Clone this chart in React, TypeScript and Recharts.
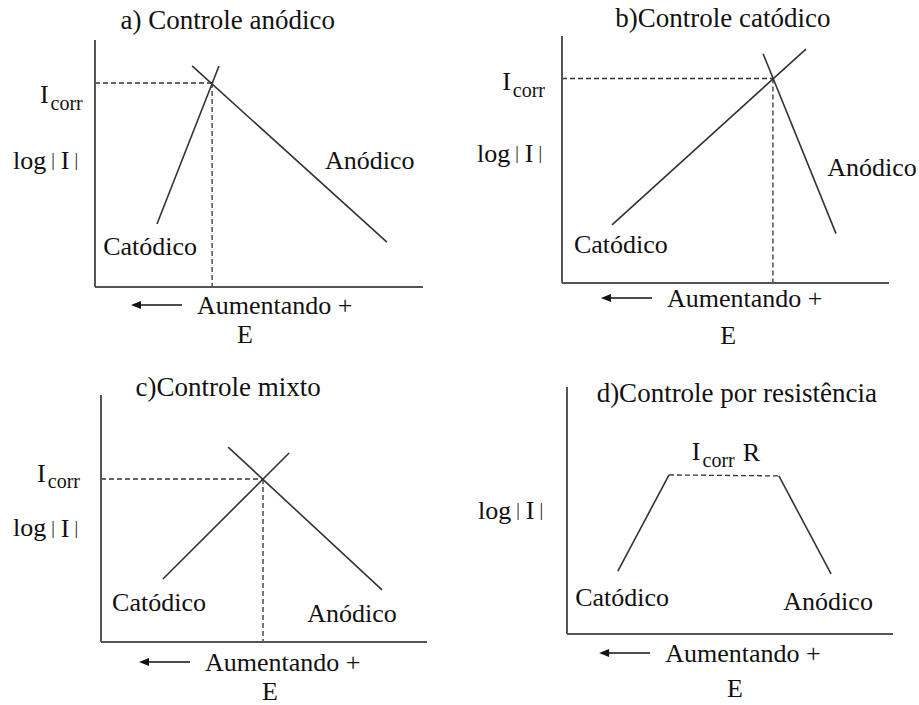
import React from "react";
import { LineChart, Line, XAxis, YAxis, ReferenceDot } from "recharts";

type Pt = { x: number; y: number };
type NoteKind = "title" | "plain" | "icorr" | "icorrR" | "log" | "eixo";
type Note = { x: number; y: number; text: string; kind: NoteKind; anchor: "start" | "middle" };

// a) Controle anódico
const aCatodico: Pt[] = [{ x: 1.89, y: 2.55 }, { x: 3.78, y: 8.95 }];
const aAnodico: Pt[] = [{ x: 2.96, y: 8.95 }, { x: 8.9, y: 1.82 }];
const aIcorr: Pt = { x: 3.57, y: 8.26 };
const aNotes: Note[] = [
  { x: 4.05, y: 10.81, text: "a) Controle anódico", kind: "title", anchor: "middle" },
  { x: -1.68, y: 7.79, text: "I", kind: "icorr", anchor: "start" },
  { x: -2.5, y: 5.14, text: "log", kind: "log", anchor: "start" },
  { x: 8.38, y: 5.14, text: "Anódico", kind: "plain", anchor: "middle" },
  { x: 1.68, y: 1.62, text: "Catódico", kind: "plain", anchor: "middle" },
  { x: 3.11, y: -0.73, text: "Aumentando +", kind: "eixo", anchor: "start" },
  { x: 4.57, y: -1.94, text: "E", kind: "plain", anchor: "middle" },
];

// b) Controle catódico
const bCatodico: Pt[] = [{ x: 1.53, y: 2.35 }, { x: 7.46, y: 9.47 }];
const bAnodico: Pt[] = [{ x: 6.15, y: 9.28 }, { x: 8.38, y: 2.0 }];
const bIcorr: Pt = { x: 6.45, y: 8.28 };
const bNotes: Note[] = [
  { x: 4.92, y: 10.73, text: "b)Controle catódico", kind: "title", anchor: "middle" },
  { x: -1.83, y: 8.14, text: "I", kind: "icorr", anchor: "start" },
  { x: -2.6, y: 5.26, text: "log", kind: "log", anchor: "start" },
  { x: 9.48, y: 4.66, text: "Anódico", kind: "plain", anchor: "middle" },
  { x: 1.8, y: 1.54, text: "Catódico", kind: "plain", anchor: "middle" },
  { x: 3.21, y: -0.61, text: "Aumentando +", kind: "eixo", anchor: "start" },
  { x: 5.08, y: -2.11, text: "E", kind: "plain", anchor: "middle" },
];

// c) Controle mixto
const cCatodico: Pt[] = [{ x: 1.9, y: 2.55 }, { x: 5.77, y: 7.65 }];
const cAnodico: Pt[] = [{ x: 3.9, y: 7.89 }, { x: 8.62, y: 2.11 }];
const cIcorr: Pt = { x: 4.97, y: 6.6 };
const cNotes: Note[] = [
  { x: 3.9, y: 10.32, text: "c)Controle mixto", kind: "title", anchor: "middle" },
  { x: -1.96, y: 6.84, text: "I", kind: "icorr", anchor: "start" },
  { x: -2.7, y: 4.62, text: "log", kind: "log", anchor: "start" },
  { x: 1.78, y: 1.58, text: "Catódico", kind: "plain", anchor: "middle" },
  { x: 7.7, y: 1.17, text: "Anódico", kind: "plain", anchor: "middle" },
  { x: 3.19, y: -0.81, text: "Aumentando +", kind: "eixo", anchor: "start" },
  { x: 5.18, y: -2.02, text: "E", kind: "plain", anchor: "middle" },
];

// d) Controle por resistência
const dCatodico: Pt[] = [{ x: 1.56, y: 2.55 }, { x: 3.13, y: 6.44 }];
const dPatamar: Pt[] = [{ x: 3.13, y: 6.44 }, { x: 6.5, y: 6.4 }];
const dAnodico: Pt[] = [{ x: 6.5, y: 6.4 }, { x: 8.1, y: 2.43 }];
const dNotes: Note[] = [
  { x: 5.21, y: 9.76, text: "d)Controle por resistência", kind: "title", anchor: "middle" },
  { x: 3.83, y: 7.37, text: "I", kind: "icorrR", anchor: "start" },
  { x: -2.73, y: 5.02, text: "log", kind: "log", anchor: "start" },
  { x: 1.69, y: 1.46, text: "Catódico", kind: "plain", anchor: "middle" },
  { x: 8.01, y: 1.3, text: "Anódico", kind: "plain", anchor: "middle" },
  { x: 3.01, y: -0.77, text: "Aumentando +", kind: "eixo", anchor: "start" },
  { x: 5.15, y: -2.22, text: "E", kind: "plain", anchor: "middle" },
];

const FONT = "'Liberation Serif', 'Times New Roman', serif";
const INK = "#111";
const LINE = "#333";

function noteShape(n: Note) {
  return (p: any) => {
    const { cx, cy } = p;
    const common = {
      x: cx,
      y: cy,
      fill: INK,
      fontFamily: FONT,
      dominantBaseline: "central" as const,
      textAnchor: n.anchor,
    };
    if (n.kind === "title") {
      return <text {...common} fontSize={27}>{n.text}</text>;
    }
    if (n.kind === "icorr" || n.kind === "icorrR") {
      return (
        <text {...common} fontSize={26}>
          {n.text}
          <tspan fontSize={20} dx={2} dy={8}>corr</tspan>
          {n.kind === "icorrR" && <tspan fontSize={26} dx={8} dy={-8}>R</tspan>}
        </text>
      );
    }
    if (n.kind === "log") {
      return (
        <text {...common} fontSize={26}>
          {n.text}
          <tspan fontSize={18} dx={5}>|</tspan>
          <tspan fontSize={26} dx={6}>I</tspan>
          <tspan fontSize={18} dx={5}>|</tspan>
        </text>
      );
    }
    if (n.kind === "eixo") {
      const x1 = cx - 15;
      const x2 = cx - 66;
      return (
        <g>
          <line x1={x1} y1={cy} x2={x2 + 8} y2={cy} stroke={INK} strokeWidth={1.5} />
          <polygon points={`${x2},${cy} ${x2 + 10},${cy - 4} ${x2 + 10},${cy + 4}`} fill={INK} />
          <text {...common} fontSize={26}>{n.text}</text>
        </g>
      );
    }
    return <text {...common} fontSize={26}>{n.text}</text>;
  };
}

type PanelProps = {
  left: number;
  top: number;
  width: number;
  height: number;
  margin: { top: number; right: number; bottom: number; left: number };
  solid: Pt[][];
  icorr?: Pt;
  dashed?: Pt[];
  notes: Note[];
};

function Panel({ left, top, width, height, margin, solid, icorr, dashed, notes }: PanelProps) {
  const dashSegs: Pt[][] = [];
  if (icorr) {
    dashSegs.push([{ x: 0, y: icorr.y }, icorr]);
    dashSegs.push([icorr, { x: icorr.x, y: 0 }]);
  }
  if (dashed) dashSegs.push(dashed);
  // axes take 1px each, so trim them out of the margins
  const m = { ...margin, left: margin.left - 1, bottom: margin.bottom - 1 };
  return (
    <div style={{ position: "absolute", left, top, width, height }}>
      <LineChart width={width} height={height} margin={m}>
        <XAxis
          type="number"
          dataKey="x"
          domain={[0, 10]}
          allowDataOverflow
          height={1}
          tick={false}
          tickLine={false}
          axisLine={{ stroke: "#555", strokeWidth: 2 }}
        />
        <YAxis
          type="number"
          dataKey="y"
          domain={[0, 10]}
          allowDataOverflow
          width={1}
          tick={false}
          tickLine={false}
          axisLine={{ stroke: "#555", strokeWidth: 2 }}
        />
        {dashSegs.map((seg, i) => (
          <Line
            key={`d${i}`}
            data={seg}
            dataKey="y"
            type="linear"
            stroke={LINE}
            strokeWidth={1.3}
            strokeDasharray="5 3"
            dot={false}
            activeDot={false}
            isAnimationActive={false}
          />
        ))}
        {solid.map((seg, i) => (
          <Line
            key={`s${i}`}
            data={seg}
            dataKey="y"
            type="linear"
            stroke={LINE}
            strokeWidth={1.6}
            dot={false}
            activeDot={false}
            isAnimationActive={false}
          />
        ))}
        {notes.map((n, i) => (
          <ReferenceDot
            key={`n${i}`}
            x={n.x}
            y={n.y}
            r={1}
            ifOverflow="visible"
            shape={noteShape(n)}
          />
        ))}
      </LineChart>
    </div>
  );
}

export default function App() {
  return (
    <div style={{ position: "absolute", left: 0, top: 0, width: 919, height: 705, background: "#fff" }}>
      <Panel
        left={0}
        top={0}
        width={460}
        height={352}
        margin={{ top: 40, right: 37, bottom: 65, left: 95 }}
        solid={[aCatodico, aAnodico]}
        icorr={aIcorr}
        notes={aNotes}
      />
      <Panel
        left={460}
        top={0}
        width={459}
        height={352}
        margin={{ top: 36, right: 30, bottom: 69, left: 102 }}
        solid={[bCatodico, bAnodico]}
        icorr={bIcorr}
        notes={bNotes}
      />
      <Panel
        left={0}
        top={352}
        width={460}
        height={353}
        margin={{ top: 43, right: 33, bottom: 63, left: 101 }}
        solid={[cCatodico, cAnodico]}
        icorr={cIcorr}
        notes={cNotes}
      />
      <Panel
        left={460}
        top={352}
        width={459}
        height={353}
        margin={{ top: 35, right: 26, bottom: 71, left: 107 }}
        solid={[dCatodico, dAnodico]}
        dashed={dPatamar}
        notes={dNotes}
      />
    </div>
  );
}
